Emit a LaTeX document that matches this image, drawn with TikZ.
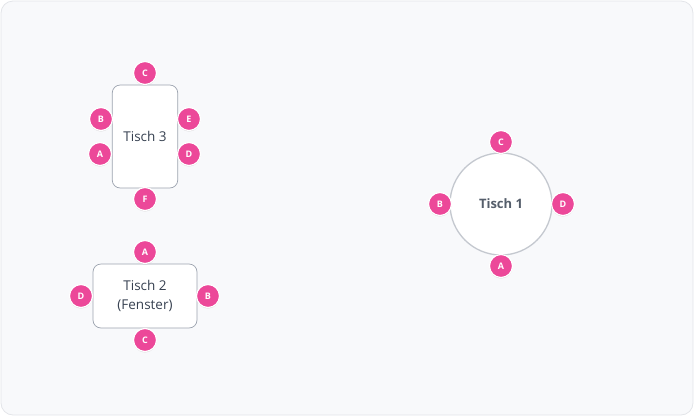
\documentclass[tikz,border=0pt]{standalone}
\usepackage{fontspec}
\setmainfont{Open Sans}
\usetikzlibrary{shadows}
\definecolor{bgfill}{HTML}{F8F9FB}
\definecolor{bgline}{HTML}{E3E5E9}
\definecolor{tline}{HTML}{9CA3AF}
\definecolor{cline}{HTML}{C4C8CF}
\definecolor{ttext}{HTML}{374151}
\definecolor{seatc}{HTML}{EC4899}
\tikzset{
  tablebox/.style={draw=tline, line width=0.7pt, fill=white, rounded corners=8pt, font=\fontsize{13.5}{19}\selectfont, text=ttext, align=center, inner sep=0pt},
  roundtable/.style={draw=cline, line width=1.3pt, fill=white, circle, font=\fontsize{13}{15}\selectfont\bfseries, text=ttext!85, inner sep=0pt, minimum size=102pt},
  seat/.style={circle, fill=seatc, draw=white, line width=1.2pt, minimum size=23pt, inner sep=0pt, text=white, font=\fontsize{9}{10}\selectfont\bfseries, drop shadow={shadow xshift=0pt, shadow yshift=-1pt, opacity=0.25}}
}
\begin{document}
\begin{tikzpicture}[x=1pt,y=-1pt]
\useasboundingbox (0,0) rectangle (694,416);
\node[draw=bgline, fill=bgfill, rounded corners=12pt, minimum width=692pt, minimum height=414pt, line width=0.8pt, inner sep=0pt] (bg) at (347,208) {};
% Tisch 3
\node[tablebox, minimum width=65.5pt, minimum height=103pt] (t3) at (145,136.5) {Tisch 3};
\node[seat] (t3c) at (145,73) {C};
\node[seat] (t3b) at (101,119) {B};
\node[seat] (t3e) at (189,119) {E};
\node[seat] (t3a) at (100,154) {A};
\node[seat] (t3d) at (189,154) {D};
\node[seat] (t3f) at (145,199) {F};
% Tisch 2
\node[tablebox, minimum width=104pt, minimum height=64pt] (t2) at (145,296) {Tisch 2\\(Fenster)};
\node[seat] (t2a) at (145,252) {A};
\node[seat] (t2d) at (81,296) {D};
\node[seat] (t2b) at (208,296) {B};
\node[seat] (t2c) at (145,340) {C};
% Tisch 1
\node[roundtable] (t1) at (501,204) {Tisch 1};
\node[seat] (t1c) at (501,142) {C};
\node[seat] (t1b) at (440,204) {B};
\node[seat] (t1d) at (563,204) {D};
\node[seat] (t1a) at (501,266) {A};
\end{tikzpicture}
\end{document}
